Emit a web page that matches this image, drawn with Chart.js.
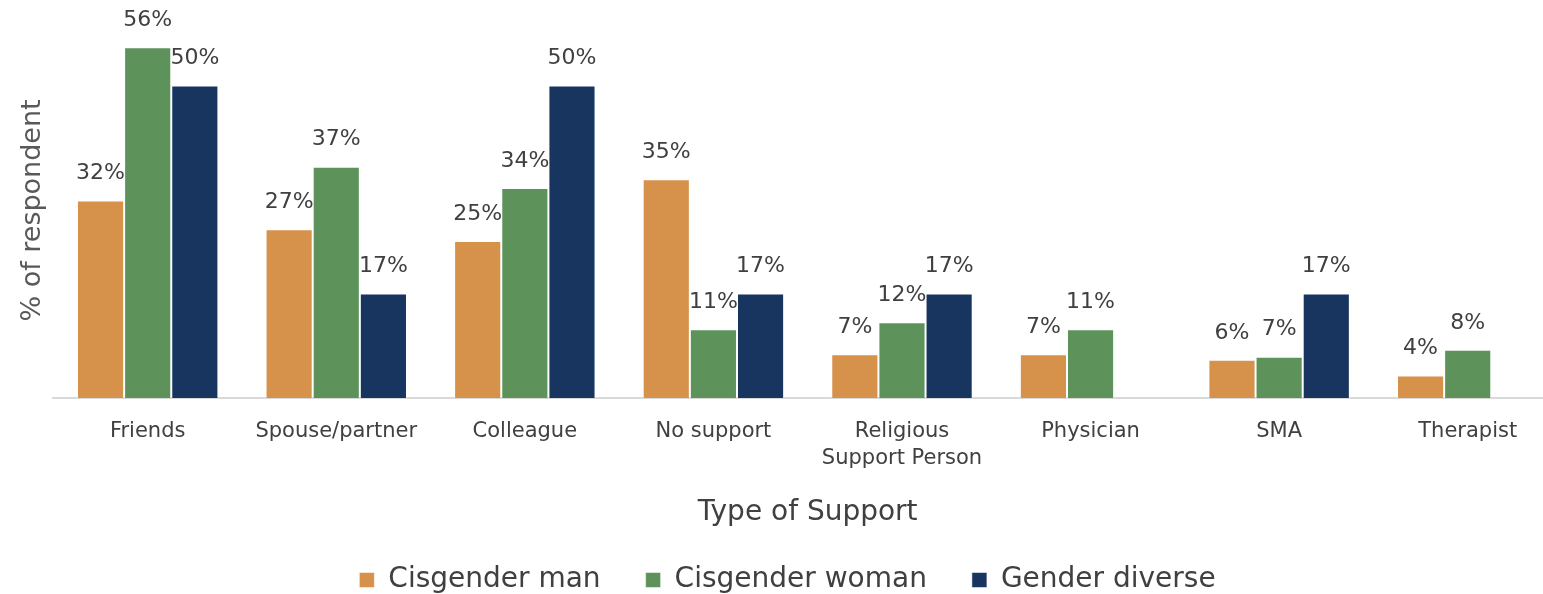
<!DOCTYPE html>
<html>
<head>
<meta charset="utf-8">
<script src="https://cdn.jsdelivr.net/npm/chart.js@4.4.1/dist/chart.umd.min.js"></script>
<style>
  body { margin: 0; background: #fff; overflow: hidden; }
  #wrap { width: 1562px; height: 604px; }
</style>
</head>
<body>
<div id="wrap"><canvas id="supportChart" width="1562" height="604"></canvas></div>
<script>
// categories + values (percent of respondents)
const categories = ["Friends", "Spouse/partner", "Colleague", "No support",
  ["Religious", "Support Person"], "Physician", "SMA", "Therapist"];
const cisMan = [31.6, 27.0, 25.1, 35.0, 7.0, 7.0, 6.1, 3.6];
const cisWoman = [56.1, 37.0, 33.6, 11.0, 12.1, 11.0, 6.6, 7.7];
const genderDiverse = [50.0, 16.7, 50.0, 16.7, 16.7, null, 16.7, null];
const seriesNames = ["Cisgender man", "Cisgender woman", "Gender diverse"];

const FONT = "'DejaVu Sans', sans-serif";
const TEXT = "#404040";

// draws the % above every bar
const barLabels = {
  id: "barLabels",
  afterDatasetsDraw(chart) {
    let ctx = chart.ctx;
    ctx.save();
    ctx.font = "22px " + FONT;
    ctx.fillStyle = TEXT;
    ctx.textAlign = "center";
    ctx.textBaseline = "middle";
    chart.data.datasets.forEach(function (ds, i) {
      let meta = chart.getDatasetMeta(i);
      meta.data.forEach(function (bar, j) {
        let v = ds.data[j];
        if (v === null) return;
        ctx.fillText(Math.round(v) + "%", bar.x, bar.y - 27);
      });
    });
    ctx.restore();
  }
};

let ctx = document.getElementById("supportChart").getContext("2d");
new Chart(ctx, {
  type: "bar",
  data: {
    labels: categories,
    datasets: [
      { label: seriesNames[0], data: cisMan, backgroundColor: "#D6914A" },
      { label: seriesNames[1], data: cisWoman, backgroundColor: "#5D935B" },
      { label: seriesNames[2], data: genderDiverse, backgroundColor: "#183560" }
    ]
  },
  options: {
    responsive: false,
    animation: false,
    layout: { padding: { left: 13, right: 0, top: 23, bottom: 0 } },
    datasets: {
      bar: {
        categoryPercentage: 0.75,
        barPercentage: 1,
        borderColor: "rgba(255,255,255,0.5)",
        borderWidth: 1
      }
    },
    scales: {
      x: {
        grid: { display: false, drawTicks: false },
        border: { display: true, color: "#D9D9D9", width: 2 },
        ticks: {
          color: TEXT,
          padding: 21,
          maxRotation: 0,
          autoSkip: false,
          font: { family: FONT, size: 21, lineHeight: 1.25 }
        },
        title: {
          display: true,
          text: "Type of Support",
          color: TEXT,
          padding: { top: 4, bottom: -9 },
          font: { family: FONT, size: 28 }
        }
      },
      y: {
        min: 0,
        max: 60,
        grid: { display: false, drawTicks: false },
        border: { display: false },
        ticks: { display: false },
        title: {
          display: true,
          text: "% of respondent",
          color: "#595959",
          padding: 4,
          font: { family: FONT, size: 27 }
        }
      }
    },
    plugins: {
      tooltip: { enabled: false },
      legend: {
        position: "bottom",
        labels: {
          color: TEXT,
          boxWidth: 15,
          boxHeight: 15,
          padding: 45,
          font: { family: FONT, size: 28 }
        }
      }
    }
  },
  plugins: [barLabels]
});
</script>
</body>
</html>
